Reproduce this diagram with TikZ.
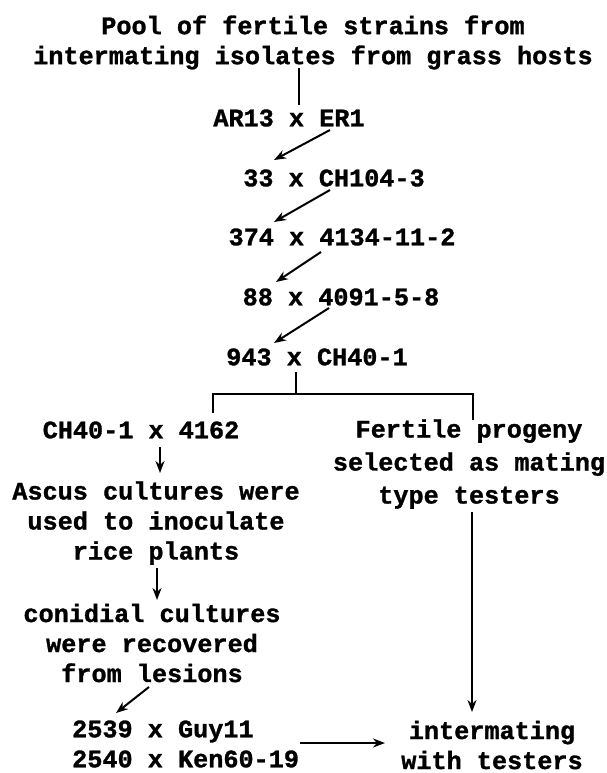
\documentclass[tikz,border=0pt]{standalone}
\usepackage{fontspec}
\setmonofont{Liberation Mono}[BoldFeatures={FakeBold=1.2}]
\usetikzlibrary{arrows.meta}
\begin{document}
\begin{tikzpicture}[x=1pt,y=-1pt,
  txt/.style={font={\ttfamily\bfseries\fontsize{25.2}{30}\selectfont}, inner sep=0pt, align=center},
  txtw/.style={font={\ttfamily\bfseries\fontsize{25.2}{33}\selectfont}, inner sep=0pt, align=center},
  arr/.style={line width=2pt,-{Stealth[length=12pt,width=9pt]}},
  ln/.style={line width=2pt}]
\useasboundingbox (0,0) rectangle (606,773);
\node[txt] (pool) at (313,42.5) {Pool of fertile strains from\\intermating isolates from grass hosts};
\node[txt] (ar13) at (289,118) {AR13 x ER1};
\node[txt] (n33) at (334,178) {33 x CH104-3};
\node[txt] (n374) at (342,237) {374 x 4134-11-2};
\node[txt] (n88) at (341,297) {88 x 4091-5-8};
\node[txt] (n943) at (317,357) {943 x CH40-1};
\node[txt] (ch40) at (141,430) {CH40-1 x 4162};
\node[txtw] (fert) at (469,464) {Fertile progeny\\selected as mating\\type testers};
\node[txt] (ascus) at (156,523) {Ascus cultures were\\used to inoculate\\rice plants};
\node[txt] (conid) at (152,643) {conidial cultures\\were recovered\\from lesions};
\node[txt, align=left, anchor=west] (bot) at (72,744) {2539 x Guy11\\2540 x Ken60-19};
\node[txt] (inter) at (492,745) {intermating\\with testers};
\coordinate (bk) at (296,394);
\coordinate (bl) at ([shift={(72,-17)}]ch40.center);
\coordinate (br) at ([shift={(4,-44)}]fert.center);
\draw[ln] ([shift={(-14,25.5)}]pool.center) -- ([shift={(10,-13)}]ar13.center);
\draw[arr] ([shift={(41,12)}]ar13.center) -- ([shift={(-60,-18)}]n33.center);
\draw[arr] ([shift={(-4,12)}]n33.center) -- ([shift={(-68,-15)}]n374.center);
\draw[arr] ([shift={(-21,15)}]n374.center) -- ([shift={(-65,-15)}]n88.center);
\draw[arr] ([shift={(-12,11)}]n88.center) -- ([shift={(-43,-14)}]n943.center);
\draw[ln] ([shift={(-21,15)}]n943.center) -- (bk);
\draw[ln] (bl) -- (bl |- bk) -- (br |- bk) -- (br);
\draw[arr] ([shift={(19,17)}]ch40.center) -- ([shift={(4,-50)}]ascus.center);
\draw[arr] ([shift={(1,45)}]ascus.center) -- ([shift={(5,-43)}]conid.center);
\draw[arr] ([shift={(-3,44)}]conid.center) -- ([shift={(44,-31)}]bot.west);
\draw[arr] ([shift={(3,48)}]fert.center) -- ([shift={(-20,-33)}]inter.center);
\draw[arr] ([shift={(228,-1)}]bot.west) -- ([shift={(-107,-2)}]inter.center);
\end{tikzpicture}
\end{document}
